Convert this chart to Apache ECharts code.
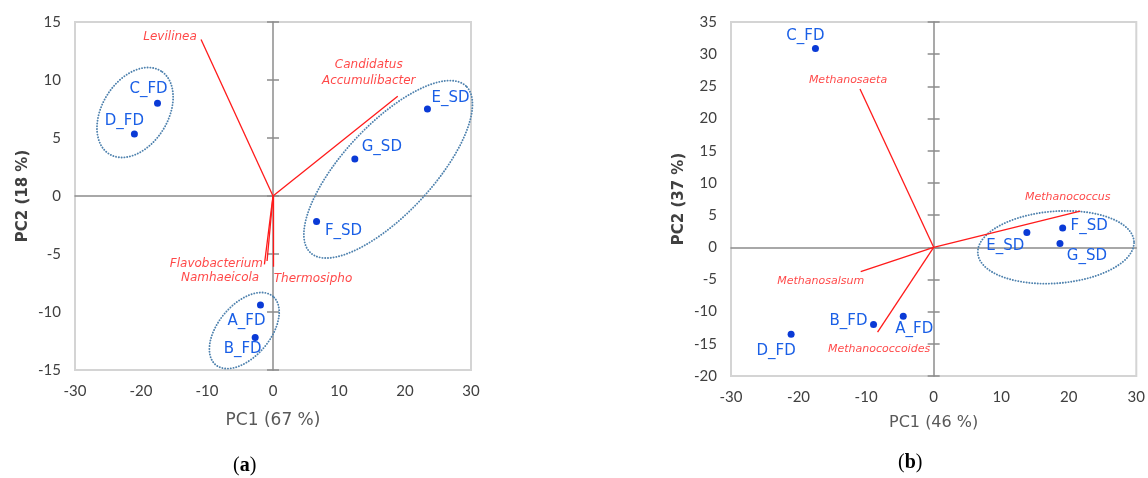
<!DOCTYPE html>
<html><head><meta charset="utf-8">
<script src="https://cdn.jsdelivr.net/npm/echarts@6/dist/echarts.min.js"></script>
<style>html,body{margin:0;padding:0;background:#fff}#c{width:1148px;height:478px}</style>
</head><body><div id="c"></div>
<script>
// ---------- Panel (a) data ----------
const samplesA = ['A_FD','B_FD','C_FD','D_FD','E_SD','F_SD','G_SD'];
const pc1A = [-1.9, -2.7, -17.5, -21.0, 23.4, 6.6, 12.4];
const pc2A = [-9.4, -12.2, 8.0, 5.35, 7.5, -2.2, 3.2];
const taxaA = ['Levilinea', 'Candidatus\nAccumulibacter', 'Flavobacterium', 'Namhaeicola', 'Thermosipho'];
const loadX_A = [-10.9, 18.9, -1.3, -0.9, 0.0];
const loadY_A = [13.5, 8.6, -5.9, -5.6, -6.1];
const groupCentersA = [[-20.9, 7.2], [-4.35, -11.6], [17.45, 2.3]];
const xTicksA = [-30, -20, -10, 0, 10, 20, 30];
const yTicksA = [-15, -10, -5, 0, 5, 10, 15];
const xNameA = 'PC1 (67 %)';
const yNameA = 'PC2 (18 %)';

// ---------- Panel (b) data ----------
const samplesB = ['A_FD','B_FD','C_FD','D_FD','E_SD','F_SD','G_SD'];
const pc1B = [-4.5, -8.9, -17.5, -21.1, 13.8, 19.1, 18.7];
const pc2B = [-10.7, -12.0, 30.9, -13.5, 2.3, 3.0, 0.6];
const taxaB = ['Methanosaeta', 'Methanococcus', 'Methanosalsum', 'Methanococcoides'];
const loadX_B = [-10.9, 21.7, -10.8, -8.3];
const loadY_B = [24.6, 5.6, -3.8, -13.2];
const groupCentersB = [[18.1, 0.0]];
const xTicksB = [-30, -20, -10, 0, 10, 20, 30];
const yTicksB = [-20, -15, -10, -5, 0, 5, 10, 15, 20, 25, 30, 35];
const xNameB = 'PC1 (46 %)';
const yNameB = 'PC2 (37 %)';

// ---------- styles (label offsets in px, ellipse shapes in px) ----------
const sampleOffsetA = {A_FD:[-14,16], B_FD:[-12.5,12], C_FD:[-9,-14], D_FD:[-10,-13], E_SD:[23,-11], F_SD:[27,10], G_SD:[27,-12]};
const sampleOffsetB = {A_FD:[11,13], B_FD:[-25,-3], C_FD:[-10,-12], D_FD:[-15,16.5], E_SD:[-21.5,13.5], F_SD:[26.5,-2], G_SD:[27,13]};
const taxaOffsetA = [[-31,-3], [-29,-23], [-48,-1], [-47,17], [40,12]];
const taxaOffsetB = [[-12,-9], [-12.5,-14], [-40,9.4], [1.5,16.7]];
const ellShapeA = [{rx:48.9, ry:32.9, rot:58}, {rx:44.6, ry:26, rot:50}, {rx:114, ry:44.6, rot:47}];
const ellShapeB = [{rx:78.3, ry:36, rot:4.4}];

const BLUE_DOT = '#0a3ad6', BLUE_TXT = '#1a5fe6', RED = '#ff1a1a', ELL = '#4f82ae';
const TICK_FONT = 'Lato', MAIN_FONT = 'DejaVu Sans';

function ellipseSeries(centers, shapes, xi, yi) {
  return {
    type: 'custom', xAxisIndex: xi, yAxisIndex: yi, silent: true, z: 1,
    data: centers,
    renderItem: function (params, api) {
      const c = api.coord([api.value(0), api.value(1)]);
      const s = shapes[params.dataIndex];
      const th = s.rot * Math.PI / 180;
      const pts = [];
      for (let k = 0; k < 180; k++) {
        const t = k / 180 * Math.PI * 2;
        const ex = s.rx * Math.cos(t), ey = s.ry * Math.sin(t);
        pts.push([c[0] + ex * Math.cos(th) - ey * Math.sin(th), c[1] - (ex * Math.sin(th) + ey * Math.cos(th))]);
      }
      return {type: 'polygon', shape: {points: pts},
        style: {fill: 'none', stroke: ELL, lineWidth: 1.9, lineDash: [0.1, 2.7], lineCap: 'round'}};
    }
  };
}

function samplesSeries(names, xs, ys, offs, xi, yi) {
  return {
    type: 'scatter', xAxisIndex: xi, yAxisIndex: yi, symbolSize: 7, z: 5,
    itemStyle: {color: BLUE_DOT, opacity: 1},
    data: names.map((n, i) => ({
      value: [xs[i], ys[i]], name: n,
      label: {show: true, position: 'inside', offset: offs[n], formatter: n,
        color: BLUE_TXT, fontFamily: MAIN_FONT, fontSize: 15, align: 'center', verticalAlign: 'middle'}
    }))
  };
}

function vectorSeries(xs, ys, xi, yi) {
  return {
    type: 'lines', coordinateSystem: 'cartesian2d', xAxisIndex: xi, yAxisIndex: yi, silent: true, z: 3,
    polyline: false,
    lineStyle: {color: RED, width: 1.3, opacity: 1},
    data: xs.map((x, i) => ({coords: [[0, 0], [x, ys[i]]]}))
  };
}

function taxaLabelSeries(names, xs, ys, offs, fs, xi, yi) {
  return {
    type: 'scatter', xAxisIndex: xi, yAxisIndex: yi, symbolSize: 0, silent: true, z: 4,
    data: names.map((n, i) => ({
      value: [xs[i], ys[i]],
      label: {show: true, position: 'inside', offset: offs[i], formatter: n,
        color: RED, fontFamily: MAIN_FONT, fontStyle: 'italic', fontSize: fs, lineHeight: fs + 4,
        align: 'center', verticalAlign: 'middle'}
    }))
  };
}

function xAxes(ticks, name, gridIndex, nameGap, nameSize) {
  const base = {type: 'value', gridIndex, min: ticks[0], max: ticks[ticks.length - 1], interval: ticks[1] - ticks[0], splitLine: {show: false}};
  return [
    Object.assign({}, base, {
      position: 'bottom', axisLine: {show: false, onZero: false}, axisTick: {show: false},
      axisLabel: {color: '#404040', fontFamily: TICK_FONT, fontSize: 15, margin: 14},
      name, nameLocation: 'middle', nameGap,
      nameTextStyle: {color: '#595959', fontFamily: MAIN_FONT, fontSize: nameSize}
    }),
    Object.assign({}, base, {
      axisLine: {show: true, onZero: true, lineStyle: {color: '#8c8c8c', width: 1.5}},
      axisTick: {show: false}, axisLabel: {show: false}
    })
  ];
}

function yAxes(ticks, name, gridIndex, nameGap) {
  const base = {type: 'value', gridIndex, min: ticks[0], max: ticks[ticks.length - 1], interval: ticks[1] - ticks[0], splitLine: {show: false}};
  return [
    Object.assign({}, base, {
      position: 'left', axisLine: {show: false, onZero: false}, axisTick: {show: false},
      axisLabel: {color: '#404040', fontFamily: TICK_FONT, fontSize: 15, margin: 14},
      name, nameLocation: 'middle', nameGap, nameRotate: 90,
      nameTextStyle: {color: '#404040', fontFamily: MAIN_FONT, fontWeight: 'bold', fontSize: 15}
    }),
    Object.assign({}, base, {
      axisLine: {show: true, onZero: true, lineStyle: {color: '#8c8c8c', width: 1.5}},
      axisTick: {show: true, inside: false, length: 6, lineStyle: {color: '#8c8c8c', width: 1.5}},
      axisLabel: {show: false}
    }),
    Object.assign({}, base, {
      axisLine: {show: false, onZero: true},
      axisTick: {show: true, inside: true, length: 6, lineStyle: {color: '#8c8c8c', width: 1.5}},
      axisLabel: {show: false}
    })
  ];
}

const chart = echarts.init(document.getElementById('c'), null, {renderer: 'canvas'});
chart.setOption({
  animation: false,
  backgroundColor: '#fff',
  grid: [
    {left: 75, top: 22, width: 396, height: 348, show: true, borderColor: '#d4d4d4', borderWidth: 2, backgroundColor: 'transparent'},
    {left: 731, top: 22, width: 406, height: 354, show: true, borderColor: '#d4d4d4', borderWidth: 2, backgroundColor: 'transparent'}
  ],
  xAxis: [].concat(xAxes(xTicksA, xNameA, 0, 42, 17), xAxes(xTicksB, xNameB, 1, 39, 16)),
  yAxis: [].concat(yAxes(yTicksA, yNameA, 0, 44), yAxes(yTicksB, yNameB, 1, 44)),
  graphic: [
    {type: 'text', left: 233, top: 456, style: {text: '({b|a})', font: '20px "Liberation Serif"', fill: '#000',
      rich: {b: {fontFamily: 'Liberation Serif', fontWeight: 'bold', fontSize: 20}}}},
    {type: 'text', left: 898, top: 453, style: {text: '({b|b})', font: '20px "Liberation Serif"', fill: '#000',
      rich: {b: {fontFamily: 'Liberation Serif', fontWeight: 'bold', fontSize: 20}}}}
  ],
  series: [
    ellipseSeries(groupCentersA, ellShapeA, 0, 0),
    vectorSeries(loadX_A, loadY_A, 0, 0),
    taxaLabelSeries(taxaA, loadX_A, loadY_A, taxaOffsetA, 12, 0, 0),
    samplesSeries(samplesA, pc1A, pc2A, sampleOffsetA, 0, 0),
    ellipseSeries(groupCentersB, ellShapeB, 2, 3),
    vectorSeries(loadX_B, loadY_B, 2, 3),
    taxaLabelSeries(taxaB, loadX_B, loadY_B, taxaOffsetB, 11, 2, 3),
    samplesSeries(samplesB, pc1B, pc2B, sampleOffsetB, 2, 3)
  ]
});
</script></body></html>
